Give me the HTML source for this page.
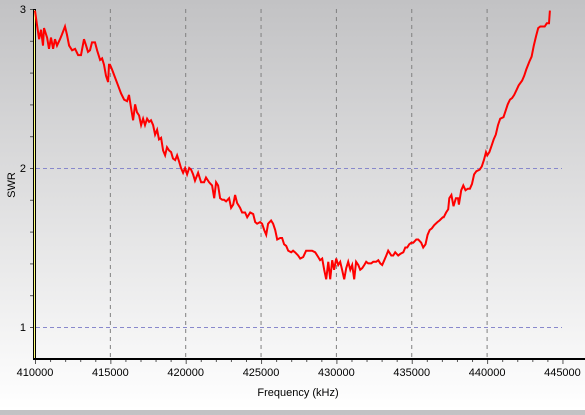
<!DOCTYPE html>
<html><head><meta charset="utf-8"><style>
html,body{margin:0;padding:0}
body{width:585px;height:410px;overflow:hidden;background:linear-gradient(#c2c2c4,#ffffff);font-family:"Liberation Sans",sans-serif}
</style></head><body>
<svg id="chart" width="585" height="410" xmlns="http://www.w3.org/2000/svg" font-family="Liberation Sans, sans-serif" font-size="11"></svg>
<script>
const freqs=[410.00,410.13,410.27,410.40,410.53,410.60,410.80,410.93,411.06,411.20,411.33,411.46,411.66,411.79,411.99,412.12,412.26,412.46,412.66,412.86,413.05,413.25,413.39,413.52,413.65,413.78,413.98,414.12,414.32,414.45,414.58,414.71,414.85,414.91,414.98,415.11,415.31,415.51,415.71,415.91,416.11,416.24,416.37,416.51,416.64,416.77,416.91,417.04,417.17,417.30,417.44,417.57,417.70,417.84,417.97,418.10,418.23,418.37,418.50,418.63,418.76,418.90,419.03,419.16,419.30,419.43,419.56,419.69,419.83,419.96,420.09,420.23,420.36,420.49,420.62,420.82,421.02,421.22,421.35,421.55,421.75,421.89,422.02,422.15,422.28,422.42,422.55,422.68,422.88,423.01,423.15,423.28,423.41,423.61,423.74,423.94,424.08,424.28,424.48,424.61,424.74,424.94,425.07,425.21,425.34,425.47,425.67,425.80,425.94,426.07,426.27,426.40,426.53,426.67,426.80,427.00,427.13,427.26,427.46,427.60,427.80,427.99,428.19,428.39,428.59,428.79,428.92,429.06,429.19,429.32,429.46,429.59,429.72,429.85,429.99,430.12,430.25,430.38,430.52,430.65,430.78,430.92,431.05,431.18,431.31,431.45,431.58,431.71,431.85,431.98,432.11,432.31,432.44,432.64,432.78,432.91,433.04,433.18,433.31,433.44,433.64,433.77,433.90,434.10,434.24,434.44,434.57,434.70,434.83,434.97,435.10,435.30,435.43,435.63,435.76,435.91,436.05,436.19,436.33,436.49,436.70,436.84,437.06,437.12,437.28,437.42,437.49,437.63,437.77,437.93,438.07,438.13,438.28,438.42,438.57,438.72,438.86,439.00,439.14,439.29,439.51,439.65,439.79,439.93,440.01,440.15,440.30,440.44,440.58,440.72,440.87,441.09,441.23,441.37,441.52,441.66,441.80,441.95,442.10,442.32,442.46,442.60,442.81,442.95,443.10,443.25,443.39,443.53,443.68,443.82,443.96,444.11,444.17];
const swr=[2.99,2.90,2.81,2.87,2.77,2.88,2.82,2.75,2.82,2.75,2.81,2.77,2.81,2.84,2.89,2.84,2.77,2.74,2.75,2.71,2.71,2.81,2.77,2.73,2.74,2.79,2.79,2.74,2.68,2.69,2.65,2.58,2.54,2.65,2.65,2.62,2.57,2.52,2.47,2.43,2.42,2.46,2.38,2.30,2.40,2.35,2.33,2.27,2.31,2.27,2.31,2.29,2.30,2.27,2.21,2.24,2.18,2.19,2.11,2.08,2.13,2.11,2.10,2.06,2.05,2.08,2.04,2.00,1.97,2.00,1.96,2.00,1.99,1.96,1.92,1.97,1.91,1.91,1.94,1.91,1.89,1.81,1.91,1.89,1.81,1.80,1.80,1.79,1.81,1.75,1.77,1.83,1.78,1.75,1.72,1.72,1.69,1.72,1.71,1.66,1.65,1.66,1.65,1.61,1.58,1.65,1.67,1.65,1.61,1.55,1.56,1.56,1.52,1.51,1.48,1.47,1.48,1.47,1.45,1.43,1.44,1.48,1.48,1.48,1.47,1.44,1.42,1.43,1.36,1.30,1.41,1.30,1.42,1.36,1.43,1.39,1.41,1.36,1.30,1.37,1.41,1.36,1.39,1.30,1.41,1.39,1.36,1.37,1.39,1.41,1.40,1.40,1.41,1.41,1.42,1.40,1.39,1.42,1.45,1.48,1.45,1.45,1.47,1.45,1.46,1.47,1.50,1.50,1.52,1.53,1.53,1.55,1.55,1.53,1.50,1.52,1.58,1.61,1.62,1.64,1.66,1.67,1.69,1.69,1.72,1.74,1.81,1.83,1.76,1.81,1.81,1.77,1.86,1.89,1.86,1.87,1.87,1.90,1.96,1.98,1.99,2.01,2.05,2.10,2.08,2.10,2.14,2.18,2.21,2.27,2.31,2.32,2.36,2.40,2.43,2.44,2.46,2.49,2.52,2.55,2.58,2.62,2.67,2.70,2.77,2.83,2.88,2.89,2.89,2.89,2.91,2.91,2.99];
const xTicks=[410000,415000,420000,425000,430000,435000,440000,445000];
const yTicks=[1,2,3];
const NS="http://www.w3.org/2000/svg";
const svg=document.getElementById('chart');
const X=f=>35+(f-410)/5*75.35;
const Y=s=>9+(3-s)*159;
function mk(t,a){const e=document.createElementNS(NS,t);for(const k in a)e.setAttribute(k,a[k]);svg.appendChild(e);return e;}
xTicks.slice(1,-1).forEach(t=>{const g=mk('line',{x1:X(t/1000),x2:X(t/1000),y1:9,y2:358,stroke:'#808080','stroke-dasharray':'4,4','stroke-width':1});

});
[1,2].forEach(t=>{const g=mk('line',{x1:36,x2:562,y1:Y(t)+0.5,y2:Y(t)+0.5,stroke:'#8888cc','stroke-dasharray':'4,3','stroke-width':1});

});
for(let v=1;v<=3.001;v+=0.2){const t=mk('line',{x1:30,x2:34,y1:Y(v)+0.5,y2:Y(v)+0.5,stroke:'#555','stroke-width':1});

}
yTicks.forEach(v=>{const t=mk('text',{x:26,y:Y(v)+4,'text-anchor':'end',fill:'#000'});t.textContent=v;

});
for(let f=410;f<=445;f+=1){const major=(f%5===0);const t=mk('line',{x1:X(f)+0.5,x2:X(f)+0.5,y1:360,y2:major?364:362,stroke:'#555','stroke-width':1});

}
xTicks.forEach(v=>{const t=mk('text',{x:X(v/1000),y:376,'text-anchor':'middle',fill:'#000'});t.textContent=v;

});
const la=mk('rect',{x:33,y:9,width:3,height:351,fill:'#000'});


const ly=mk('line',{x1:34.5,x2:34.5,y1:10,y2:358,stroke:'#ffff80','stroke-width':1});


const ba=mk('rect',{x:33,y:358,width:552,height:2,fill:'#000'});


const n=Math.min(freqs.length,swr.length);
let d='';for(let i=0;i<n;i++)d+=(i?'L':'M')+X(freqs[i]).toFixed(1)+','+Y(swr[i]).toFixed(1);
const p=mk('path',{d:d,fill:'none',stroke:'#ff0000','stroke-width':2,'stroke-linejoin':'miter'});


const xt=mk('text',{x:298,y:396,'text-anchor':'middle',fill:'#000'});xt.textContent='Frequency (kHz)';


const yt=mk('text',{x:0,y:0,'text-anchor':'middle',fill:'#000',transform:'translate(15,185) rotate(-90)'});yt.textContent='SWR';


</script>
</body></html>
